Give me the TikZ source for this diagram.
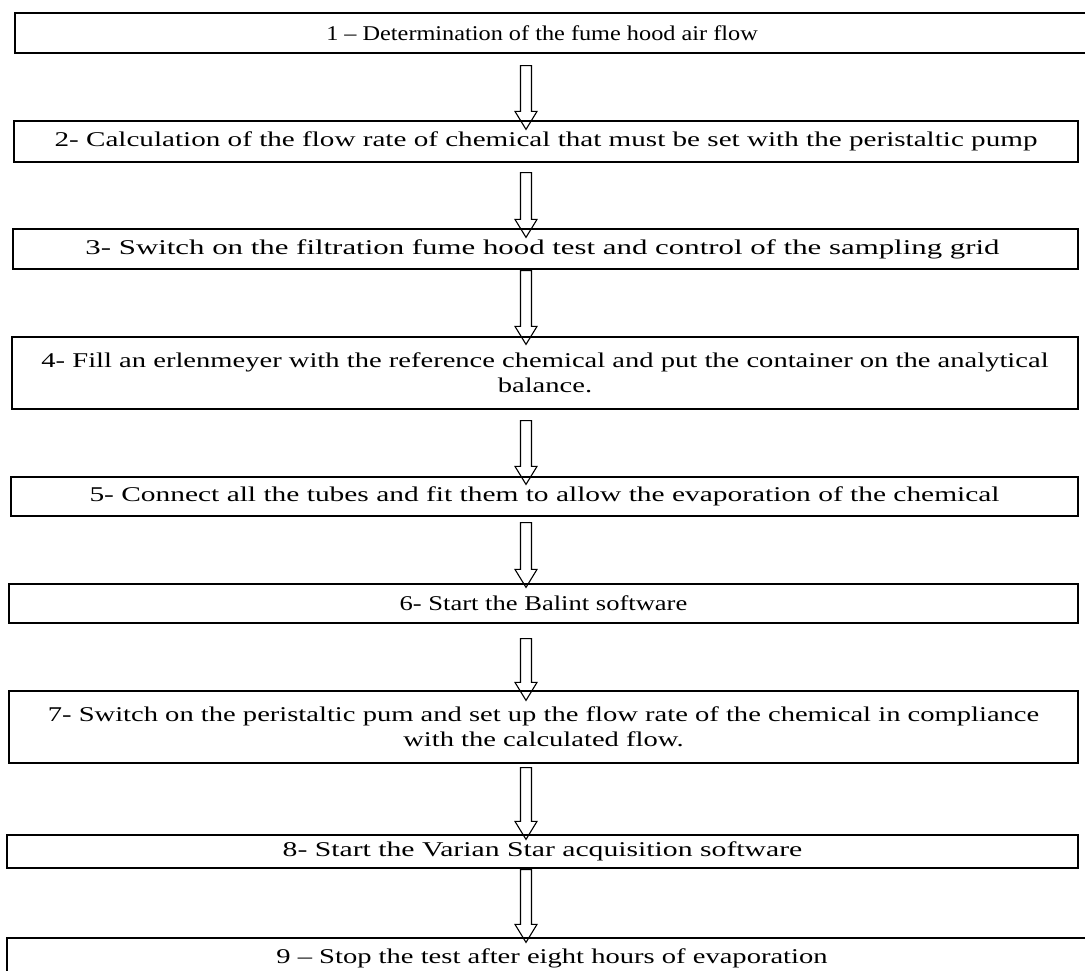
\documentclass[tikz,border=0pt]{standalone}
\usepackage{graphicx}
\usepackage{fontspec}
\setmainfont{Liberation Serif}[FakeStretch=1.36]
\usetikzlibrary{calc}

\tikzset{
  stepbox/.style={draw=black, line width=1.2pt, inner sep=0pt, align=center,
    font=\fontsize{21}{25}\selectfont},
  hollow/.style={draw=black, line width=1.1pt, line join=miter},
}

% hollow block arrow from the bottom of #1 into the top of #2;
% #3 = gap below #1, #4 = how far the tip reaches into #2
\newcommand\flowarrow[4]{%
  \draw[hollow] let \p1=(#1.south), \p2=(#2.north) in
    (520.5pt,\y1-#3) -- (531.5pt,\y1-#3) -- (531.5pt,\y2-#4+18pt)
    -- (537pt,\y2-#4+18pt) -- (526pt,\y2-#4) -- (515pt,\y2-#4+18pt)
    -- (520.5pt,\y2-#4+18pt) -- cycle;}
% horizontally squeezed or widened single-line label
\newcommand\hsc[2]{\scalebox{#1}[1]{#2}}

\begin{document}
\begin{tikzpicture}[x=1pt,y=-1pt]
\useasboundingbox (0,0) rectangle (1085,971);
\clip (0,0) rectangle (1085,971);

\node[stepbox, minimum width=1080pt, minimum height=40pt] (s1) at (555,33)
  {\hspace*{-26pt}\hsc{0.85}{1 -- Determination of the fume hood air flow}};
\node[stepbox, minimum width=1064pt, minimum height=41pt] (s2) at (546,141.5)
  {\hsc{1.02}{2- Calculation of the flow rate of chemical that must be set with the peristaltic pump}};
\node[stepbox, minimum width=1065pt, minimum height=40pt] (s3) at (545.5,249)
  {\hspace*{-6pt}\hsc{1.08}{3- Switch on the filtration fume hood test and control of the sampling grid}};
\node[stepbox, minimum width=1066pt, minimum height=72pt] (s4) at (545,373)
  {4- Fill an erlenmeyer with the reference chemical and put the container on the analytical\\balance.};
\node[stepbox, minimum width=1067pt, minimum height=39pt] (s5) at (544.5,496.5)
  {\hsc{1.03}{5- Connect all the tubes and fit them to allow the evaporation of the chemical}};
\node[stepbox, minimum width=1069pt, minimum height=39pt] (s6) at (543.5,603.5)
  {\hsc{0.93}{6- Start the Balint software}};
\node[stepbox, minimum width=1069pt, minimum height=72pt] (s7) at (543.5,727)
  {7- Switch on the peristaltic pum and set up the flow rate of the chemical in compliance\\with the calculated flow.};
\node[stepbox, minimum width=1071pt, minimum height=33pt] (s8) at (542.5,851.5)
  {\hsc{1.04}{8- Start the Varian Star acquisition software}};
\node[stepbox, minimum width=1090pt, minimum height=40pt] (s9) at (552,958)
  {9 -- Stop the test after eight hours of evaporation};

\flowarrow{s1}{s2}{12pt}{9pt}
\flowarrow{s2}{s3}{10pt}{9pt}
\flowarrow{s3}{s4}{1pt}{8pt}
\flowarrow{s4}{s5}{11pt}{8pt}
\flowarrow{s5}{s6}{6pt}{4pt}
\flowarrow{s6}{s7}{15pt}{10pt}
\flowarrow{s7}{s8}{4pt}{5pt}
\flowarrow{s8}{s9}{1pt}{5pt}
\end{tikzpicture}
\end{document}
